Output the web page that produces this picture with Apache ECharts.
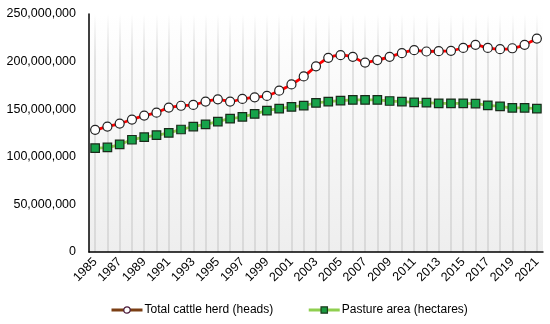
<!DOCTYPE html>
<html><head><meta charset="utf-8">
<script src="https://cdn.jsdelivr.net/npm/echarts@6/dist/echarts.min.js"></script>
<style>html,body{margin:0;padding:0;background:#fff}#c{width:550px;height:324px}</style>
</head><body><div id="c"></div>
<script>
const years = ['1985','1986','1987','1988','1989','1990','1991','1992','1993','1994','1995','1996','1997','1998','1999','2000','2001','2002','2003','2004','2005','2006','2007','2008','2009','2010','2011','2012','2013','2014','2015','2016','2017','2018','2019','2020','2021'];
const cattleHerd = [128300000,131800000,134900000,139100000,143300000,146400000,151700000,153600000,154500000,158000000,160400000,158000000,160800000,162500000,163900000,169500000,176000000,184400000,195000000,204000000,206800000,205000000,199000000,201600000,205000000,208900000,212000000,210600000,211000000,211300000,214400000,217600000,214400000,213000000,214000000,217600000,224200000];
const pastureArea = [109100000,109800000,113000000,117900000,120600000,122700000,125200000,128700000,131800000,134000000,137000000,140000000,142000000,145000000,148500000,150600000,152400000,153800000,156600000,158000000,159000000,159700000,159700000,159700000,158600000,158000000,157200000,156900000,156200000,156200000,156200000,155900000,154100000,153000000,151400000,151400000,150600000];
const yTicks = [0,50000000,100000000,150000000,200000000,250000000];

const chart = echarts.init(document.getElementById('c'));
const fmt = v => Math.round(v).toString().replace(/\B(?=(\d{3})+(?!\d))/g, ',');
chart.setOption({
  animation: false,
  textStyle: {fontFamily: 'Liberation Sans, Arial, sans-serif'},
  grid: {left: 89, right: 7, top: 14, bottom: 72, show: true, borderWidth: 0,
    backgroundColor: new echarts.graphic.LinearGradient(0, 0, 0, 1, [
      {offset: 0, color: '#ffffff'}, {offset: 1, color: '#eeeeee'}])},
  xAxis: {
    type: 'category', data: years, boundaryGap: true,
    axisLine: {show: true, lineStyle: {color: '#000', width: 1.5}},
    axisTick: {show: false},
    axisLabel: {interval: 1, rotate: 45, color: '#000', fontSize: 12.5, margin: 8},
    splitLine: {show: true, alignWithLabel: true, interval: 0,
      lineStyle: {width: 1.6, color: new echarts.graphic.LinearGradient(0, 14, 0, 252, [
        {offset: 0, color: 'rgba(210,210,210,0)'}, {offset: 0.2, color: '#dcdcdc'}, {offset: 1, color: '#d4d4d4'}], true)}}
  },
  yAxis: {
    type: 'value', min: 0, max: 250000000, interval: 50000000,
    axisLine: {show: true, lineStyle: {color: '#000', width: 1.5}},
    axisTick: {show: false},
    splitLine: {show: false},
    axisLabel: {color: '#000', fontSize: 12.5, margin: 13, formatter: v => fmt(v)}
  },
  legend: {
    bottom: 3, left: 105, itemGap: 34, itemWidth: 31, itemHeight: 8,
    textStyle: {color: '#000', fontSize: 12, padding: [0, 0, 0, -3]},
    data: [
      {name: 'Total cattle herd (heads)', lineStyle: {color: '#7b3f14', width: 3}, itemStyle: {color: '#fff', borderColor: '#4a1a3a', borderWidth: 1.2}},
      {name: 'Pasture area (hectares)', lineStyle: {color: '#8fcf4f', width: 3}, itemStyle: {color: '#1a9a40', borderColor: '#1c3a1c', borderWidth: 1.2}}
    ]
  },
  series: [
    {name: 'Total cattle herd (heads)', type: 'line', data: cattleHerd, smooth: 0.25,
      symbol: 'circle', symbolSize: 9, showAllSymbol: true,
      lineStyle: {color: '#ff0000', width: 2.8},
      itemStyle: {color: '#ffffff', borderColor: '#222', borderWidth: 1.2}},
    {name: 'Pasture area (hectares)', type: 'line', data: pastureArea, smooth: 0.25,
      symbol: 'rect', symbolSize: 8.5, showAllSymbol: true,
      lineStyle: {color: '#8fd050', width: 2.8},
      itemStyle: {color: '#16a34a', borderColor: '#1a2a1a', borderWidth: 1.2}}
  ]
});
</script></body></html>
